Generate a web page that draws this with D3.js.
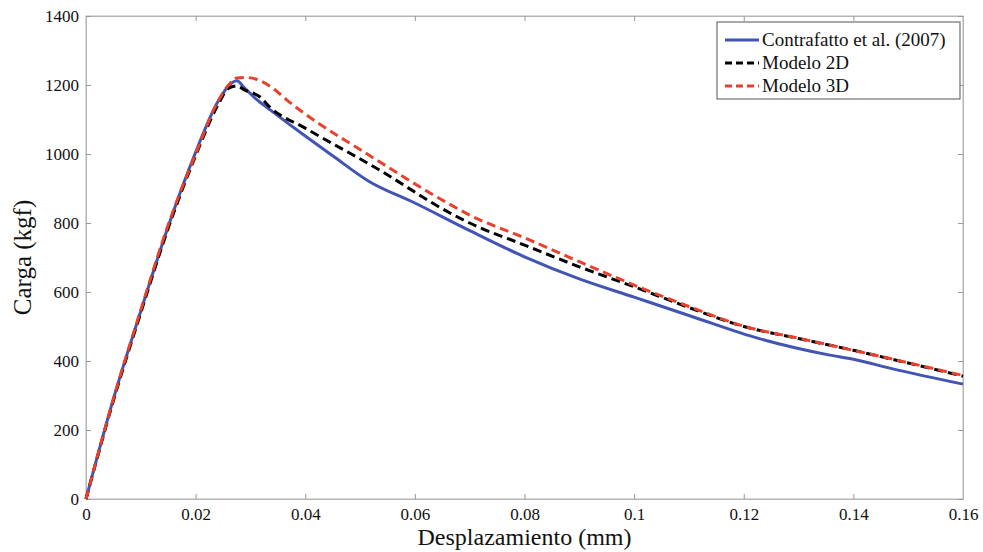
<!DOCTYPE html>
<html>
<head>
  <meta charset="utf-8">
  <title>Carga vs Desplazamiento</title>
  <script src="https://d3js.org/d3.v7.min.js"></script>
  <style>
    body { margin: 0; background: #fff; }
    text { font-family: "Liberation Serif", "DejaVu Serif", serif; fill: #111; }
  </style>
</head>
<body>
  <svg id="chart"></svg>
  <script>
    // datos: desplazamiento (mm) y carga (kgf)
    var contrafattoX = [0, 0.005, 0.01, 0.015, 0.02, 0.024, 0.0265, 0.0275, 0.029, 0.031, 0.0336, 0.04, 0.045, 0.0515, 0.06, 0.07, 0.08, 0.09, 0.1, 0.11, 0.123, 0.1357, 0.14, 0.147, 0.16];
    var contrafattoY = [0, 290, 545, 790, 1005, 1150, 1205, 1212, 1190, 1160, 1128, 1052, 995, 922, 858, 778, 702, 638, 585, 532, 464, 417, 405, 378, 333];

    var modelo2DX = [0, 0.005, 0.01, 0.015, 0.02, 0.024, 0.026, 0.0275, 0.029, 0.0317, 0.0336, 0.04, 0.0536, 0.0664, 0.07, 0.08, 0.09, 0.1, 0.11, 0.12, 0.13, 0.14, 0.15, 0.16];
    var modelo2DY = [0, 285, 540, 785, 995, 1140, 1190, 1197, 1185, 1166, 1135, 1075, 953, 829, 800, 736, 673, 615, 555, 500, 465, 431, 394, 356];

    var modelo3DX = [0, 0.005, 0.01, 0.015, 0.02, 0.024, 0.026, 0.0275, 0.029, 0.0317, 0.034, 0.0366, 0.0414, 0.05, 0.0664, 0.07, 0.08, 0.09, 0.1, 0.11, 0.12, 0.13, 0.14, 0.15, 0.16];
    var modelo3DY = [0, 290, 548, 795, 1000, 1150, 1200, 1220, 1222, 1213, 1192, 1157, 1100, 1013, 854, 823, 757, 688, 620, 558, 501, 466, 431, 395, 358];

    var xTicks = [0, 0.02, 0.04, 0.06, 0.08, 0.1, 0.12, 0.14, 0.16];
    var yTicks = [0, 200, 400, 600, 800, 1000, 1200, 1400];

    var seriesNames = ["Contrafatto et al. (2007)", "Modelo 2D", "Modelo 3D"];
    var seriesColors = ["#4254b4", "#000000", "#e8412e"];
    var seriesDash = [null, "9,5", "9,5"];

    var width = 983, height = 552;
    var margin = {left: 86, right: 20, top: 16, bottom: 53};
    var serif = "'Liberation Serif', 'DejaVu Serif', serif";

    var svg = d3.select("#chart")
      .attr("width", width)
      .attr("height", height);

    var x = d3.scaleLinear().domain([0, 0.16]).range([margin.left, width - margin.right]);
    var y = d3.scaleLinear().domain([0, 1400]).range([height - margin.bottom, margin.top]);

    var frameColor = "#b5b5b5";

    // marco
    svg.append("rect")
      .attr("x", x(0)).attr("y", y(1400))
      .attr("width", x(0.16) - x(0)).attr("height", y(0) - y(1400))
      .attr("fill", "none").attr("stroke", frameColor).attr("stroke-width", 1);

    // ejes con marcas hacia dentro
    var fmt = function(d) { return d === 0 ? "0" : d3.format("~g")(d); };

    var xAxis = svg.append("g")
      .attr("transform", "translate(0," + y(0) + ")")
      .call(d3.axisBottom(x).tickValues(xTicks).tickFormat(fmt).tickSizeInner(-5).tickSizeOuter(0).tickPadding(9));
    var xAxisTop = svg.append("g")
      .attr("transform", "translate(0," + y(1400) + ")")
      .call(d3.axisTop(x).tickValues(xTicks).tickFormat("").tickSizeInner(-5).tickSizeOuter(0));
    var yAxis = svg.append("g")
      .attr("transform", "translate(" + x(0) + ",0)")
      .call(d3.axisLeft(y).tickValues(yTicks).tickFormat(fmt).tickSizeInner(-5).tickSizeOuter(0).tickPadding(7));
    var yAxisRight = svg.append("g")
      .attr("transform", "translate(" + x(0.16) + ",0)")
      .call(d3.axisRight(y).tickValues(yTicks).tickFormat("").tickSizeInner(-5).tickSizeOuter(0));

    [xAxis, xAxisTop, yAxis, yAxisRight].forEach(function(g) {
      g.attr("font-family", serif).attr("font-size", 17);
      g.select(".domain").attr("stroke", frameColor);
      g.selectAll(".tick line").attr("stroke", "#999");
      g.selectAll("text").attr("fill", "#111");
    });

    // curvas
    var series = [
      {xs: contrafattoX, ys: contrafattoY},
      {xs: modelo2DX, ys: modelo2DY},
      {xs: modelo3DX, ys: modelo3DY}
    ];

    var line = d3.line()
      .x(function(d) { return x(d[0]); })
      .y(function(d) { return y(d[1]); })
      .curve(d3.curveMonotoneX);

    series.forEach(function(s, i) {
      var pts = s.xs.map(function(v, k) { return [v, s.ys[k]]; });
      svg.append("path")
        .datum(pts)
        .attr("fill", "none")
        .attr("stroke", seriesColors[i])
        .attr("stroke-width", 3)
        .attr("stroke-dasharray", seriesDash[i])
        .attr("d", line);
    });

    // titulos de ejes
    svg.append("text")
      .attr("x", (x(0) + x(0.16)) / 2)
      .attr("y", 545)
      .attr("text-anchor", "middle")
      .style("font-size", "24px")
      .text("Desplazamiento (mm)");

    svg.append("text")
      .attr("transform", "translate(31," + ((y(0) + y(1400)) / 2) + ") rotate(-90)")
      .attr("text-anchor", "middle")
      .style("font-size", "25px")
      .text("Carga (kgf)");

    // leyenda
    var legend = svg.append("g").attr("transform", "translate(717,22)");
    legend.append("rect")
      .attr("width", 243).attr("height", 77)
      .attr("fill", "#fff").attr("stroke", "#555").attr("stroke-width", 1);

    seriesNames.forEach(function(name, i) {
      var cy = 18 + i * 23;
      legend.append("line")
        .attr("x1", 8).attr("x2", 42).attr("y1", cy).attr("y2", cy)
        .attr("stroke", seriesColors[i]).attr("stroke-width", 3)
        .attr("stroke-dasharray", seriesDash[i] ? "7,4" : null);
      legend.append("text")
        .attr("x", 45).attr("y", cy + 6)
        .style("font-size", "19px")
        .text(name);
    });
  </script>
</body>
</html>
